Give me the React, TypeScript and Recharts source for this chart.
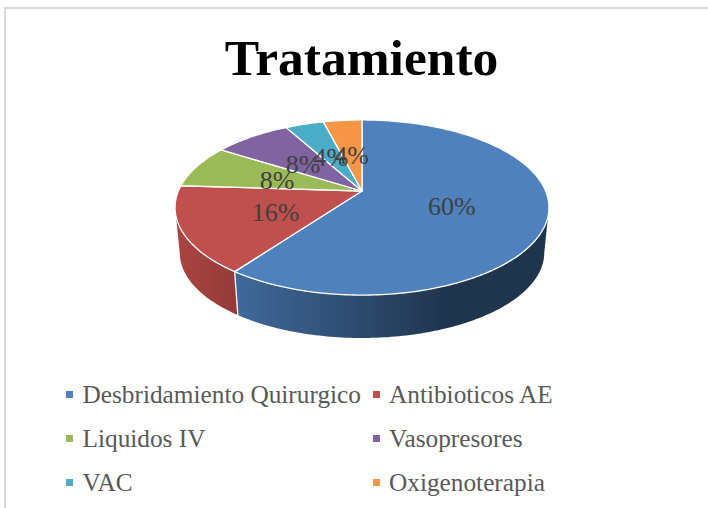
import { PieChart, Pie, Legend } from 'recharts';

const CATEGORIES = ['Desbridamiento Quirurgico', 'Antibioticos AE', 'Liquidos IV', 'Vasopresores', 'VAC', 'Oxigenoterapia'];
const VALUES = [15, 4, 2, 2, 1, 1];
const COLORS = ['#4f81bd', '#c0504d', '#9bbb59', '#8064a2', '#4bacc6', '#f79646'];

const data = CATEGORIES.map((name, i) => ({ name, value: VALUES[i], fill: COLORS[i] }));

const FONT = '"Liberation Serif", serif';
const RADIUS = 183.6;
// perspective of the tilted disc
const TILT = 0.46;
const PERSP = 0.1886;
const DEPTH = 45.5;
const BOTTOM_SCALE = 0.975;
const RAD = Math.PI / 180;
const SILHOUETTE = Math.asin(PERSP) / RAD;

function project(cx: number, cy: number, r: number, deg: number, f = 1) {
  const u = Math.cos(deg * RAD) * f;
  const v = Math.sin(deg * RAD) * f;
  const w = 1 + PERSP * v;
  return { x: cx + (r * u) / w, y: cy - (r * TILT * v) / w };
}

function arc(cx: number, cy: number, r: number, from: number, to: number) {
  const steps = Math.max(1, Math.ceil(Math.abs(from - to)));
  const pts = [];
  for (let i = 0; i <= steps; i++) pts.push(project(cx, cy, r, from + ((to - from) * i) / steps));
  return pts;
}

const lower = (cx: number, cy: number, p: { x: number; y: number }) => ({
  x: cx + (p.x - cx) * BOTTOM_SCALE,
  y: cy + DEPTH + (p.y - cy) * BOTTOM_SCALE,
});

const toPath = (pts: { x: number; y: number }[]) =>
  pts.map((p, i) => `${i ? 'L' : 'M'}${p.x.toFixed(2)} ${p.y.toFixed(2)}`).join(' ');

function Slice(props: any) {
  const { cx, cy, outerRadius, startAngle, endAngle, fill, index } = props;
  const from = Math.min(startAngle, -SILHOUETTE);
  const to = Math.max(endAngle, -180 + SILHOUETTE);
  const top = arc(cx, cy, outerRadius, startAngle, endAngle);
  const hasWall = from > to;
  const wallTop = hasWall ? arc(cx, cy, outerRadius, from, to) : [];
  const wallBottom = wallTop.map(p => lower(cx, cy, p)).reverse();
  return (
    <g>
      {hasWall && <path d={toPath([...wallTop, ...wallBottom]) + ' Z'} fill={`url(#wall${index})`} />}
      {hasWall && from === startAngle && (
        <path d={toPath([wallTop[0], wallBottom[wallBottom.length - 1]])} stroke="#fff" strokeWidth={1.3} />
      )}
      <path
        d={`M${cx} ${cy} ${toPath(top).replace('M', 'L')} Z`}
        fill={fill}
        stroke="#fff"
        strokeWidth={1.3}
        strokeLinejoin="round"
      />
    </g>
  );
}

function sliceLabel(props: any) {
  const { cx, cy, midAngle, percent, outerRadius } = props;
  const p = project(cx, cy, outerRadius, midAngle, 0.5);
  return (
    <text x={p.x} y={p.y + 11} textAnchor="middle" fontFamily={FONT} fontSize={26} fill="#404040">
      {`${Math.round(percent * 100)}%`}
    </text>
  );
}

function LegendBlock({ payload }: any) {
  return (
    <div style={{ display: 'grid', gridTemplateColumns: '306.5px 300px', paddingLeft: 66, margin: 0 }}>
      {(payload || []).map((item: any) => (
        <div
          key={item.value}
          style={{ display: 'flex', alignItems: 'center', height: 44, fontFamily: FONT, fontSize: 25.3, color: '#595959', whiteSpace: 'nowrap' }}
        >
          <span style={{ width: 7, height: 7, background: item.color, marginRight: 9.5, flex: 'none' }} />
          {item.value}
        </div>
      ))}
    </div>
  );
}

export default function App() {
  return (
    <div style={{ position: 'absolute', left: 0, top: 0, width: 708, height: 508, overflow: 'hidden', background: '#fff' }}>
      <div style={{ position: 'absolute', left: 4, top: 7, width: 720, height: 520, borderLeft: '2px solid #d9d9d9', borderTop: '2px solid #d9d9d9' }} />
      <PieChart width={708} height={508} margin={{ top: 0, right: 0, bottom: 0, left: 0 }} style={{ position: 'absolute', left: 0, top: 0 }}>
        <defs>
          <linearGradient id="wall0" gradientUnits="userSpaceOnUse" x1={236} y1={0} x2={450} y2={0}>
            <stop offset="0" stopColor="#41699b" />
            <stop offset="1" stopColor="#1f344d" />
          </linearGradient>
          <linearGradient id="wall1" gradientUnits="userSpaceOnUse" x1={178} y1={0} x2={236} y2={0}>
            <stop offset="0" stopColor="#aa4541" />
            <stop offset="1" stopColor="#943b39" />
          </linearGradient>
        </defs>
        <text x={361.5} y={75} textAnchor="middle" fontFamily={FONT} fontWeight="bold" fontSize={51.5} fill="#000">
          Tratamiento
        </text>
        <Pie
          data={data}
          dataKey="value"
          nameKey="name"
          cx={362}
          cy={191}
          outerRadius={RADIUS}
          startAngle={90}
          endAngle={-270}
          shape={Slice}
          label={sliceLabel}
          labelLine={false}
          isAnimationActive={false}
        />
        <Legend itemSorter={null} content={<LegendBlock />} wrapperStyle={{ left: 0, top: 372, width: 708 }} />
      </PieChart>
    </div>
  );
}
